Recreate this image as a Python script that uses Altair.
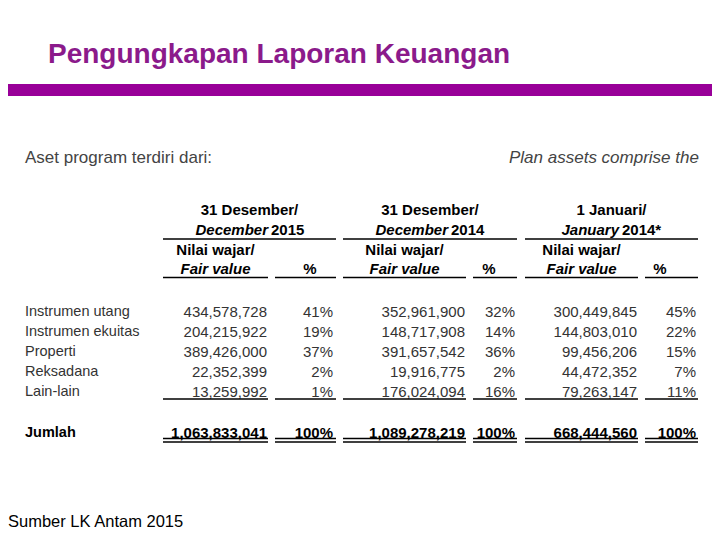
import altair as alt
import pandas as pd

# ---------------- data ----------------
title_text = "Pengungkapan Laporan Keuangan"
intro_id = "Aset program terdiri dari:"
intro_en = "Plan assets comprise the following:"
source_note = "Sumber LK Antam 2015"

categories = ["Instrumen utang", "Instrumen ekuitas", "Properti", "Reksadana", "Lain-lain"]
fair_value_dec2015 = [434578728, 204215922, 389426000, 22352399, 13259992]
pct_dec2015 = [41, 19, 37, 2, 1]
fair_value_dec2014 = [352961900, 148717908, 391657542, 19916775, 176024094]
pct_dec2014 = [32, 14, 36, 2, 16]
fair_value_jan2014 = [300449845, 144803010, 99456206, 44472352, 79263147]
pct_jan2014 = [45, 22, 15, 7, 11]

total_label = "Jumlah"
total_fair_value = [1063833041, 1089278219, 668444560]
total_pct = [100, 100, 100]

group_line1 = ["31 Desember/", "31 Desember/", "1 Januari/"]
group_line2_italic = ["December", "December", "January"]
group_line2_plain = ["2015", "2014", "2014*"]
sub_header_line1 = "Nilai wajar/"
sub_header_line2 = "Fair value"
pct_header = "%"

# ---------------- layout (pixel positions on the page) ----------------
group_span = [(163, 336), (343, 517), (525, 698)]
fv_span = [(163, 268), (343, 466), (525, 638)]
pct_span = [(275, 336), (473, 517), (645, 698)]
fv_right = [267, 465, 637]
pct_right = [333, 515, 696]
pct_head_x = [310, 489, 660]
split_x = [268, 448, 619]
row_y = [312, 332, 352, 372, 392]
total_y = 433
head_y = [210, 230, 250, 269]
label_x = 25

FONT = "Liberation Sans"
xs = alt.Scale(domain=[8, 712], nice=False, zero=False)
ys = alt.Scale(domain=[8, 532], nice=False, zero=False, reverse=True)


def text_layer(rows, **kw):
    df = pd.DataFrame(rows, columns=["x", "y", "t"])
    base = dict(font=FONT, baseline="middle")
    base.update(kw)
    return alt.Chart(df).mark_text(**base).encode(
        x=alt.X("x:Q", scale=xs, axis=None),
        y=alt.Y("y:Q", scale=ys, axis=None),
        text="t:N",
    )


def rule_layer(rows, width=1.4):
    df = pd.DataFrame(rows, columns=["x", "x2", "y"])
    return alt.Chart(df).mark_rule(color="black", strokeWidth=width).encode(
        x=alt.X("x:Q", scale=xs, axis=None),
        x2="x2:Q",
        y=alt.Y("y:Q", scale=ys, axis=None),
    )


layers = []

# purple band
band = pd.DataFrame({"x": [8], "x2": [712], "y": [84], "y2": [96]})
layers.append(
    alt.Chart(band).mark_rect(color="#990099").encode(
        x=alt.X("x:Q", scale=xs, axis=None), x2="x2:Q",
        y=alt.Y("y:Q", scale=ys, axis=None), y2="y2:Q",
    )
)

# title
layers.append(text_layer([(48, 55, title_text)], align="left", fontSize=28,
                         fontWeight="bold", color="#8B1A8B"))
# intro texts
layers.append(text_layer([(label_x, 158, intro_id)], align="left", fontSize=17, color="#444444"))
layers.append(text_layer([(509, 158, intro_en)], align="left", fontSize=17, color="#444444",
                         fontStyle="italic", limit=196, ellipsis=" "))
# footer
layers.append(text_layer([(8, 522, source_note)], align="left", fontSize=16.5, color="#000000"))

# headers
hdr_center = []
for i in range(3):
    gc = (group_span[i][0] + group_span[i][1]) / 2
    fc = (fv_span[i][0] + fv_span[i][1]) / 2
    hdr_center.append((gc, head_y[0], group_line1[i]))
    hdr_center.append((fc, head_y[2], sub_header_line1))
    hdr_center.append((pct_head_x[i], head_y[3], pct_header))
layers.append(text_layer(hdr_center, align="center", fontSize=15, fontWeight="bold", color="#000000"))
layers.append(text_layer([(split_x[i], head_y[1], group_line2_italic[i]) for i in range(3)],
                         align="right", fontSize=15, fontWeight="bold", fontStyle="italic", color="#000000"))
layers.append(text_layer([(split_x[i] + 3, head_y[1], group_line2_plain[i]) for i in range(3)],
                         align="left", fontSize=15, fontWeight="bold", color="#000000"))
layers.append(text_layer([((fv_span[i][0] + fv_span[i][1]) / 2, head_y[3], sub_header_line2) for i in range(3)],
                         align="center", fontSize=15, fontWeight="bold", fontStyle="italic", color="#000000"))

# row labels
layers.append(text_layer([(label_x, row_y[k], categories[k]) for k in range(len(categories))],
                         align="left", fontSize=14.5, color="#333333"))
layers.append(text_layer([(label_x, total_y, total_label)], align="left", fontSize=14.5,
                         fontWeight="bold", color="#000000"))

# values
fvs = [fair_value_dec2015, fair_value_dec2014, fair_value_jan2014]
pcts = [pct_dec2015, pct_dec2014, pct_jan2014]
val_rows = []
for i in range(3):
    for k in range(len(categories)):
        val_rows.append((fv_right[i], row_y[k], f"{fvs[i][k]:,}"))
        val_rows.append((pct_right[i], row_y[k], f"{pcts[i][k]}%"))
layers.append(text_layer(val_rows, align="right", fontSize=15, color="#333333"))

tot_rows = []
for i in range(3):
    tot_rows.append((fv_right[i], total_y, f"{total_fair_value[i]:,}"))
    tot_rows.append((pct_right[i], total_y, f"{total_pct[i]}%"))
layers.append(text_layer(tot_rows, align="right", fontSize=15, fontWeight="bold", color="#000000"))

# rules
layers.append(rule_layer([(a, b, 239) for a, b in group_span]))
sub_spans = fv_span + pct_span
layers.append(rule_layer([(a, b, 277.5) for a, b in sub_spans]))
layers.append(rule_layer([(a, b, 399) for a, b in sub_spans]))
layers.append(rule_layer([(a, b, 438.5) for a, b in sub_spans]))
layers.append(rule_layer([(a, b, 442) for a, b in sub_spans]))

chart = alt.layer(*layers).properties(
    width=704, height=524,
    autosize=alt.AutoSizeParams(type="fit", contains="padding"),
    padding=0,
    background="white",
).configure_view(strokeWidth=0)

chart.save("out.html", embed_options={"renderer": "svg", "actions": False})
